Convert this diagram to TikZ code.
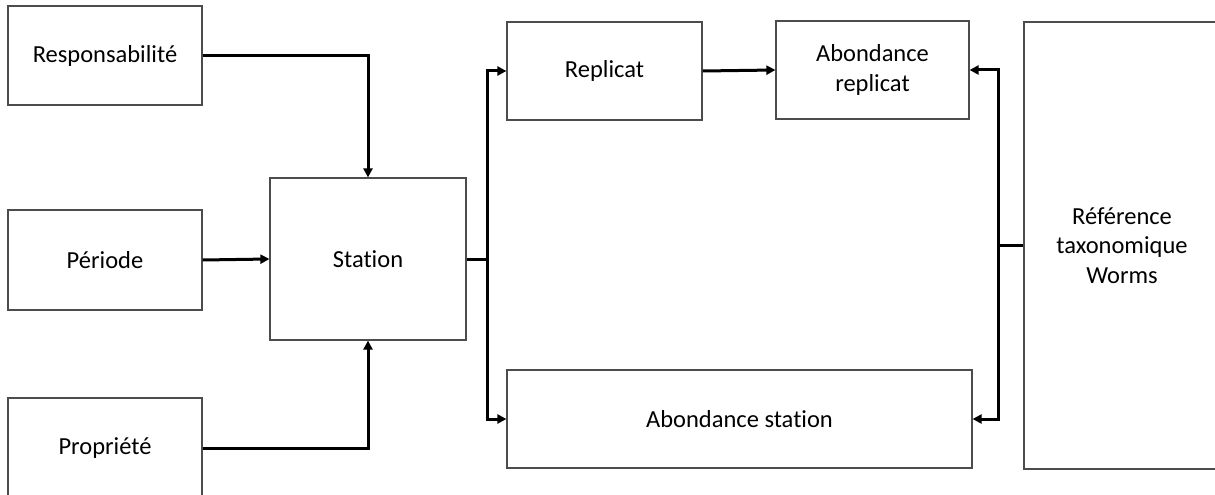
\documentclass[tikz,border=0pt]{standalone}
\usepackage{fontspec}
\setmainfont{Carlito}[Ligatures={NoCommon}]
\usetikzlibrary{arrows.meta}
\begin{document}
\begin{tikzpicture}[x=1pt,y=1pt,
  box/.style={draw=black!70,line width=1.2pt,fill=white,inner sep=0pt,align=center,
    font=\fontsize{24.5}{29.5}\selectfont},
  conn/.style={draw=black,line width=3pt,-{Triangle[length=9pt,width=9pt]}},
  plain/.style={draw=black,line width=3pt}]
\useasboundingbox (0,0) rectangle (1215,-495);
\node[box,minimum width=194pt,minimum height=99pt] (resp) at (105,-55.5) {Responsabilité};
\node[box,minimum width=194pt,minimum height=100pt] (per) at (105,-260) {Période};
\node[box,minimum width=194pt,minimum height=100pt] (prop) at (105,-448) {Propriété};
\node[box,minimum width=196pt,minimum height=162pt] (sta) at (368,-259) {Station};
\node[box,minimum width=195pt,minimum height=98pt] (rep) at (604.5,-71) {Replicat};
\node[box,minimum width=193pt,minimum height=98pt] (abr) at (872.5,-70) {Abondance\\replicat};
\node[box,minimum width=465pt,minimum height=98pt] (abs) at (739.5,-419) {Abondance station};
\node[box,minimum width=196pt,minimum height=447pt] (ref) at (1122,-245.5) {Référence\\taxonomique\\Worms};
\coordinate (j) at (487,-259);
\coordinate (k) at (998,-245.5);
\draw[conn] (resp.east) -| (sta.north);
\draw[conn] (prop.east) -| (sta.south);
\draw[conn] (per.east) -- (sta.west);
\draw[plain] (sta.east) -- (j);
\draw[conn] (j) |- (rep.west);
\draw[conn] (j) |- (abs.west);
\draw[conn] (rep.east) -- (abr.west);
\draw[plain] (ref.west) -- (k);
\draw[conn] (k) |- (abr.east);
\draw[conn] (k) |- (abs.east);
\end{tikzpicture}
\end{document}
